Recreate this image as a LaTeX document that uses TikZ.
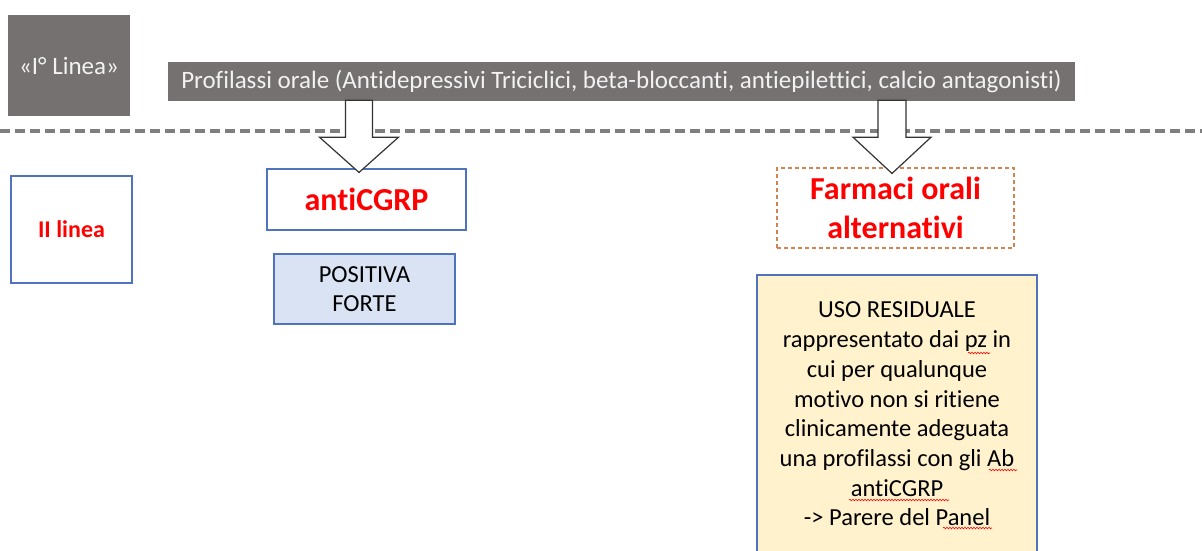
\documentclass[tikz,border=0pt]{standalone}
\usepackage{fontspec}
\setmainfont[Ligatures={NoCommon,NoContextual}]{Carlito}
\usetikzlibrary{calc,decorations.pathmorphing}
\definecolor{slate}{HTML}{767171}
\definecolor{paletext}{HTML}{F2F2F2}
\definecolor{divider}{HTML}{7F7F7F}
\definecolor{bluedge}{HTML}{4F73BE}
\definecolor{bluefill}{HTML}{DAE3F3}
\definecolor{orangedge}{HTML}{D0844F}
\definecolor{creamfill}{HTML}{FFF2CC}
\definecolor{arrowedge}{HTML}{333333}
\tikzset{
  graybox/.style={fill=slate, draw=none, text=paletext, inner sep=0pt,
    font=\fontsize{25}{29}\selectfont},
  bluebox/.style={draw=bluedge, line width=1.1pt, inner sep=0pt, align=center},
  redbold/.style={text=red, font=\bfseries\fontsize{32}{39}\selectfont},
  bodytext/.style={font=\fontsize{24.5}{29.7}\selectfont, text=black},
  blockarrow/.style={fill=white, draw=arrowedge, line width=1.2pt, line join=miter},
  dividerline/.style={draw=divider, line width=3.5pt, dash pattern=on 10pt off 5pt},
  spellmark/.style={draw=red, line width=0.6pt, decorate,
    decoration={snake, amplitude=0.8pt, segment length=3pt}},
}
\begin{document}
\begin{tikzpicture}[x=1pt, y=-1pt]
\useasboundingbox (0,0) rectangle (1202,550);

% first line of therapy
\node[graybox, minimum width=122pt, minimum height=101pt] (first) at (69,65.5) {«I° Linea»};
\node[graybox, minimum width=907pt, minimum height=39pt] (prof) at (621.5,81.5)
  {Profilassi orale (Antidepressivi Triciclici, beta-bloccanti, antiepilettici, calcio antagonisti)};

% divider between the two lines of therapy
\coordinate (divL) at (0,131);
\coordinate (divR) at (1202,131);
\draw[dividerline] (divL) -- (divR);

% second line of therapy
\node[bluebox, minimum width=121pt, minimum height=107pt,
      text=red, font=\bfseries\fontsize{24}{29}\selectfont] (second) at (71.5,229.5) {II linea};
\node[bluebox, minimum width=199pt, minimum height=61pt, redbold] (anti) at (366.5,199.5) {antiCGRP};
\node[bluebox, fill=bluefill, minimum width=181pt, minimum height=70pt, bodytext] (pos) at (364.5,289)
  {POSITIVA\\FORTE};
\node[draw=orangedge, line width=1.1pt, dash pattern=on 4pt off 3pt, inner sep=0pt,
      minimum width=237pt, minimum height=80pt, align=center, redbold] (oral) at (895.5,208)
  {Farmaci orali\\alternativi};
\node[bluebox, fill=creamfill, minimum width=280pt, minimum height=278pt, bodytext] (uso) at (897,414)
  {USO RESIDUALE\\rappresentato dai pz in\\cui per qualunque\\motivo non si ritiene\\
   clinicamente adeguata\\una profilassi con gli Ab\\antiCGRP\\-> Parere del Panel};

% spell-check marks under some words
\draw[spellmark] ($(uso.center)+(71,-61)$) -- ++(22,0);
\draw[spellmark] ($(uso.center)+(92,56)$) -- ++(28,0);
\draw[spellmark] ($(uso.center)+(-48,86)$) -- ++(100,0);
\draw[spellmark] ($(uso.center)+(46,114)$) -- ++(49,0);

% block arrows from the oral prophylaxis bar
\coordinate (a1) at (359,0);
\coordinate (a2) at (892,0);
\draw[blockarrow]
  ($(prof.south -| a1)+(-13.5,-1)$) -- ++(0,37) -- ++(-26,0)
  -- ($(anti.north -| a1)+(0,4)$)
  -- ($(prof.south -| a1)+(39.5,36)$) -- ++(-26,0) -- ++(0,-37) -- cycle;
\draw[blockarrow]
  ($(prof.south -| a2)+(-14,-1)$) -- ++(0,37) -- ++(-25,0)
  -- ($(oral.north -| a2)+(0,6)$)
  -- ($(prof.south -| a2)+(39,36)$) -- ++(-25,0) -- ++(0,-37) -- cycle;
\end{tikzpicture}
\end{document}
